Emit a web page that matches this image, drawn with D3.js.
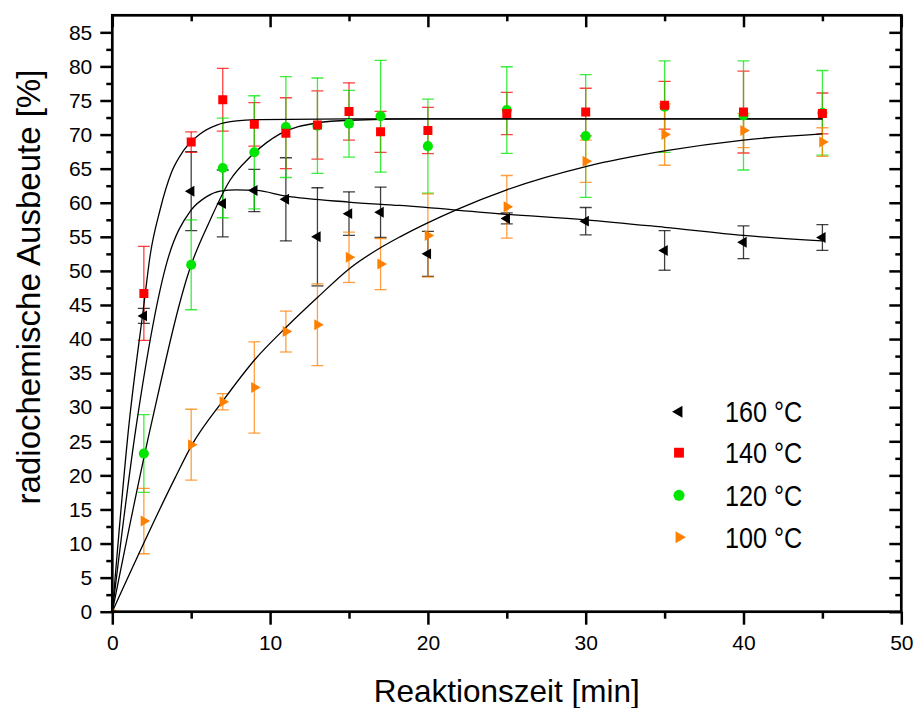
<!DOCTYPE html>
<html>
<head>
<meta charset="utf-8">
<script src="https://cdn.jsdelivr.net/npm/d3@7"></script>
<style>
  body { margin: 0; background: #fff; }
  svg { display: block; }
</style>
</head>
<body>
<svg id="chart" width="917" height="708"></svg>
<script>
// measured times (min)
const times = [2, 5, 7, 9, 11, 13, 15, 17, 20, 25, 30, 35, 40, 45];
const times100 = [0, 2, 5, 7, 9, 11, 13, 15, 17, 20, 25, 30, 35, 40, 45];

// yields (%) and errors
const yield160 = [43.4, 61.7, 59.9, 61.8, 60.5, 55.0, 58.4, 58.6, 52.5, 57.7, 57.3, 53.0, 54.2, 54.9];
const err160 = [1.1, 5.8, 4.9, 3.1, 6.1, 7.2, 3.2, 3.7, 3.3, 0.8, 2.0, 2.9, 2.4, 1.9];
const yield140 = [46.7, 68.9, 75.1, 71.5, 70.2, 71.4, 73.4, 70.4, 70.6, 73.1, 73.3, 74.3, 73.3, 73.1];
const err140 = [6.9, 1.5, 4.6, 3.2, 5.2, 5.0, 4.2, 3.0, 3.4, 3.1, 3.5, 3.5, 6.0, 3.0];
const yield120 = [23.2, 50.9, 65.1, 67.4, 71.1, 71.3, 71.6, 72.7, 68.3, 73.6, 69.8, 74.1, 72.8, 73.2];
const err120 = [5.7, 6.6, 7.3, 8.3, 7.4, 7.0, 4.9, 8.2, 6.9, 6.35, 9.0, 6.7, 8.0, 6.2];
const yield100 = [0, 13.3, 24.5, 30.8, 32.9, 41.1, 42.1, 52.0, 51.0, 55.2, 59.4, 66.1, 70.0, 70.6, 68.9];
const err100 = [0, 4.8, 5.2, 1.2, 6.7, 3.0, 6.0, 3.7, 3.75, 6.1, 4.6, 3.1, 4.5, 2.5, 2.1];

// fitted curves as [t, yield]
const fit160 = [[0, 0], [1.52, 27.3], [3.49, 51.5], [4.99, 58.9], [5.98, 60.9], [6.83, 61.7], [7.88, 61.9],
  [9.15, 61.8], [10.95, 61.0], [14.96, 60.1], [18.2, 59.6], [25, 58.3], [30, 57.5], [35, 56.4], [40, 55.2], [45, 54.4]];
const fit140 = [[0, 0], [1.05, 27.3], [2.0, 45], [2.4, 52.3], [3.02, 58.9], [3.76, 64.5], [4.5, 67.6],
  [5.56, 70.1], [6.62, 71.4], [7.88, 72.0], [9.36, 72.2], [15, 72.3], [45, 72.3]];
const fit120 = [[0, 0], [2.45, 27.3], [5.0, 50.9], [6.19, 57.4], [7.46, 63.3], [8.73, 66.7], [10.63, 70.1],
  [12.95, 71.7], [15.06, 72.1], [20, 72.3], [45, 72.3]];
const fit100 = [[0, 0], [3.97, 19.6], [5.03, 24.4], [7.03, 31.0], [9.04, 37.0], [11.05, 41.8], [13.05, 46.2],
  [15.06, 50.4], [17.07, 53.5], [18.23, 55.0], [21.83, 59.0], [25, 61.9], [30, 65.3], [35, 67.6], [40, 69.2], [45, 70.1]];

const seriesLabels = ['160 °C', '140 °C', '120 °C', '100 °C'];
const xMajor = [0, 10, 20, 30, 40, 50];
const xMinor = [5, 15, 25, 35, 45];
const yMajor = d3.range(0, 86, 5);
const yMinor = d3.range(2.5, 85, 5);

const series = [
  {label: seriesLabels[0], t: times, v: yield160, e: err160, fit: fit160, color: '#000000', shape: 'left'},
  {label: seriesLabels[1], t: times, v: yield140, e: err140, fit: fit140, color: '#ff0000', shape: 'square'},
  {label: seriesLabels[2], t: times, v: yield120, e: err120, fit: fit120, color: '#00e600', shape: 'circle'},
  {label: seriesLabels[3], t: times100, v: yield100, e: err100, fit: fit100, color: '#ff8000', shape: 'right'}
];

const svg = d3.select('#chart');
const plotLeft = 112.3, plotRight = 901.3, plotTop = 15.3, plotBottom = 611.7;

const x = d3.scaleLinear().domain([0, 50]).range([plotLeft, plotRight]);
const y = d3.scaleLinear().domain([0, 87.5]).range([plotBottom, plotTop]);

svg.append('rect').attr('width', 917).attr('height', 708).attr('fill', '#fff');

svg.append('defs').append('clipPath').attr('id', 'plot')
  .append('rect')
  .attr('x', plotLeft).attr('y', plotTop)
  .attr('width', plotRight - plotLeft).attr('height', plotBottom - plotTop);

function symbolPath(shape, big) {
  const k = big ? 1.2 : 1;
  if (shape === 'square') return d3.symbol(d3.symbolSquare, 81 * k)();
  if (shape === 'circle') return d3.symbol(d3.symbolCircle, 80 * k)();
  return d3.symbol(d3.symbolTriangle, 52 * k)();
}
function symbolRotate(shape) {
  if (shape === 'left') return ' rotate(-90)';
  if (shape === 'right') return ' rotate(90)';
  return '';
}

const plot = svg.append('g').attr('clip-path', 'url(#plot)');

// error bars
series.forEach(s => {
  const g = plot.append('g')
    .attr('stroke', s.color)
    .attr('stroke-width', 1.3)
    .attr('stroke-opacity', 0.75)
    .attr('fill', 'none');
  s.t.forEach((t, i) => {
    if (!s.e[i]) return;
    const cx = x(t), y0 = y(s.v[i] - s.e[i]), y1 = y(s.v[i] + s.e[i]);
    g.append('line').attr('x1', cx).attr('x2', cx).attr('y1', y0).attr('y2', y1);
    g.append('line').attr('x1', cx - 6).attr('x2', cx + 6).attr('y1', y0).attr('y2', y0);
    g.append('line').attr('x1', cx - 6).attr('x2', cx + 6).attr('y1', y1).attr('y2', y1);
  });
});

// fitted curves
const line = d3.line()
  .x(d => x(d[0]))
  .y(d => y(d[1]))
  .curve(d3.curveMonotoneX);

series.forEach(s => {
  plot.append('path')
    .datum(s.fit)
    .attr('fill', 'none')
    .attr('stroke', '#000')
    .attr('stroke-width', 1.3)
    .attr('d', line);
});

// markers, orange first so the others sit on top
[3, 2, 1, 0].forEach(idx => {
  const s = series[idx];
  plot.append('g').selectAll('path')
    .data(s.t.map((t, i) => [t, s.v[i]]))
    .join('path')
    .attr('d', symbolPath(s.shape))
    .attr('transform', d => 'translate(' + x(d[0]) + ',' + y(d[1]) + ')' + symbolRotate(s.shape))
    .attr('fill', s.color);
});

// axes
function styleAxis(g) {
  g.select('.domain').remove();
  g.selectAll('.tick line').attr('stroke', '#000').attr('stroke-width', 2.5);
  g.selectAll('.tick text')
    .attr('fill', '#000')
    .attr('font-family', '"Liberation Sans", Arial, sans-serif')
    .attr('font-size', 21);
}

svg.append('g')
  .attr('transform', 'translate(0,' + plotBottom + ')')
  .call(d3.axisBottom(x).tickValues(xMajor).tickSize(13).tickPadding(10).tickFormat(d3.format('d')))
  .call(styleAxis);
svg.append('g')
  .attr('transform', 'translate(0,' + plotBottom + ')')
  .call(d3.axisBottom(x).tickValues(xMinor).tickSize(7).tickFormat(''))
  .call(styleAxis);
svg.append('g')
  .attr('transform', 'translate(0,' + plotTop + ')')
  .call(d3.axisTop(x).tickValues(xMajor).tickSize(-12).tickFormat(''))
  .call(styleAxis);
svg.append('g')
  .attr('transform', 'translate(0,' + plotTop + ')')
  .call(d3.axisTop(x).tickValues(xMinor).tickSize(-6).tickFormat(''))
  .call(styleAxis);

svg.append('g')
  .attr('transform', 'translate(' + plotLeft + ',0)')
  .call(d3.axisLeft(y).tickValues(yMajor).tickSize(12).tickPadding(8).tickFormat(d3.format('d')))
  .call(styleAxis);
svg.append('g')
  .attr('transform', 'translate(' + plotLeft + ',0)')
  .call(d3.axisLeft(y).tickValues(yMinor).tickSize(6).tickFormat(''))
  .call(styleAxis);
svg.append('g')
  .attr('transform', 'translate(' + plotRight + ',0)')
  .call(d3.axisRight(y).tickValues(yMajor).tickSize(-12).tickFormat(''))
  .call(styleAxis);
svg.append('g')
  .attr('transform', 'translate(' + plotRight + ',0)')
  .call(d3.axisRight(y).tickValues(yMinor).tickSize(-6).tickFormat(''))
  .call(styleAxis);

// frame
svg.append('rect')
  .attr('x', plotLeft).attr('y', plotTop)
  .attr('width', plotRight - plotLeft).attr('height', plotBottom - plotTop)
  .attr('fill', 'none')
  .attr('stroke', '#000')
  .attr('stroke-width', 2.7);

// axis titles
svg.append('text')
  .attr('x', (plotLeft + plotRight) / 2)
  .attr('y', 702)
  .attr('text-anchor', 'middle')
  .attr('font-family', '"Liberation Sans", Arial, sans-serif')
  .attr('font-size', 31.5)
  .text('Reaktionszeit [min]');

svg.append('text')
  .attr('transform', 'translate(40,287) rotate(-90)')
  .attr('text-anchor', 'middle')
  .attr('font-family', '"Liberation Sans", Arial, sans-serif')
  .attr('font-size', 33)
  .text('radiochemische Ausbeute [%]');

// legend (narrow lettering, squeezed horizontally)
const legendY = [411.7, 452.7, 495.3, 537.3];
const legend = svg.append('g');
series.forEach((s, i) => {
  legend.append('path')
    .attr('d', symbolPath(s.shape, true))
    .attr('transform', 'translate(679,' + legendY[i] + ')' + symbolRotate(s.shape))
    .attr('fill', s.color);
  legend.append('text')
    .attr('transform', 'translate(725,' + legendY[i] + ') scale(0.84,1)')
    .attr('dy', '0.35em')
    .attr('font-family', '"Liberation Sans", Arial, sans-serif')
    .attr('font-size', 30)
    .attr('fill', '#000')
    .text(s.label);
});
</script>
</body>
</html>
